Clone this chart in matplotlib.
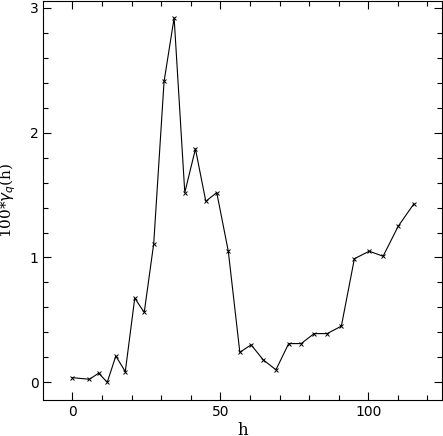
import matplotlib
matplotlib.use("Agg")
import matplotlib.pyplot as plt
from matplotlib.ticker import MultipleLocator

h = [0, 5.8, 8.9, 11.8, 14.7, 17.9, 21.1, 24.3, 27.5, 31.0, 34.4, 38.0, 41.6,
     45.1, 48.8, 52.7, 56.6, 60.4, 64.5, 68.8, 73.1, 77.3, 81.7, 86.1, 90.9,
     95.3, 100.3, 105.0, 110.1, 115.4]
gamma = [0.037, 0.024, 0.073, 0.0, 0.21, 0.086, 0.674, 0.56, 1.11, 2.41, 2.92,
         1.52, 1.87, 1.45, 1.52, 1.05, 0.24, 0.30, 0.18, 0.10, 0.31, 0.31, 0.39,
         0.39, 0.45, 0.99, 1.05, 1.01, 1.25, 1.43]

xticks = [0, 50, 100]
yticks = [0, 1, 2, 3]

fig = plt.figure(figsize=(4.43, 4.36), dpi=100)
ax = fig.add_axes([43.3 / 443, 1 - 400 / 436, (442 - 43.3) / 443, (400 - 1) / 436])
ax.plot(h, gamma, color="black", lw=0.8, marker="x", ms=3, mew=0.7)
ax.set_xlim(-9.8, 124.9)
ax.set_ylim(-0.142, 3.055)
ax.set_xticks(xticks)
ax.set_yticks(yticks)
ax.xaxis.set_minor_locator(MultipleLocator(10))
ax.yaxis.set_minor_locator(MultipleLocator(0.2))
ax.tick_params(which="both", direction="in", top=True, right=True, width=0.8,
               labelsize=10, colors="black")
ax.tick_params(which="major", length=6)
ax.tick_params(which="minor", length=3.6)
for lab in ax.get_xticklabels() + ax.get_yticklabels():
    lab.set_family("DejaVu Sans")
for s in ax.spines.values():
    s.set_linewidth(0.8)
ax.set_xlabel("h", family="DejaVu Serif", fontsize=12, labelpad=2)
ax.set_ylabel("100*$\\gamma_q$(h)", family="DejaVu Serif", fontsize=11, labelpad=8)
fig.savefig("out.png", dpi=100)
